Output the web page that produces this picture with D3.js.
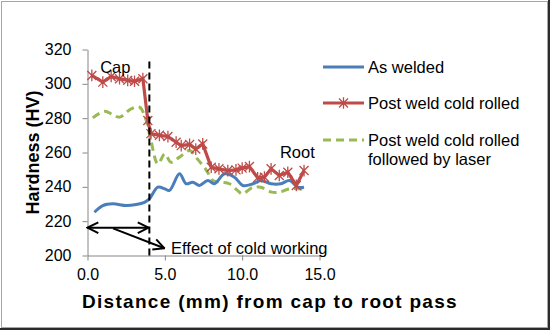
<!DOCTYPE html>
<html>
<head>
<meta charset="utf-8">
<script src="https://cdn.jsdelivr.net/npm/d3@7"></script>
<style>
  html, body { margin: 0; padding: 0; background: #fff; }
  svg { display: block; font-family: "Liberation Sans", Arial, sans-serif; }
</style>
</head>
<body>
<svg id="chart" width="550" height="330"></svg>
<script>
// Series: distance (mm) and hardness (HV)
const asWeldedX = [0.45, 0.99, 1.64, 2.5, 3.15, 3.68, 4.0, 4.55, 5.0, 5.3, 5.95, 6.38, 6.8, 7.24, 7.78, 8.2, 8.86, 9.5, 10.04, 10.7, 11.2, 11.87, 12.5, 13.06, 13.6, 14.0];
const asWeldedY = [225.2, 229.1, 230.1, 229.1, 229.7, 231, 233, 239.8, 238.8, 237.9, 247.6, 241.8, 242.7, 240.8, 243.7, 241.8, 247.6, 245.6, 240.8, 241.8, 243.7, 241.8, 241.8, 243.7, 239.8, 239.8];

const coldRolledX = [0.28, 0.99, 1.53, 2.07, 2.6, 3.04, 3.58, 3.9, 4.1, 4.65, 5.2, 5.73, 6.06, 6.6, 7.0, 7.45, 8.0, 8.5, 9.07, 9.6, 10.0, 10.47, 11.0, 11.44, 11.87, 12.4, 12.95, 13.5, 14.0];
const coldRolledY = [304.9, 301, 304.3, 303, 302, 301.5, 303, 278.6, 271, 270, 269.3, 266, 264, 264.7, 262, 265, 251.4, 250.5, 249.5, 249.9, 250.9, 251.8, 245.3, 245.6, 250.5, 246.6, 248.5, 240.8, 249.5];

const laserX = [0.34, 1.1, 1.64, 2.07, 2.82, 3.36, 3.8, 4.1, 4.55, 5.0, 5.4, 5.95, 6.6, 7.1, 7.7, 8.1, 8.64, 9.18, 9.7, 10.0, 10.7, 11.2, 11.9, 12.4, 13.06, 13.9];
const laserY = [280.2, 284, 282, 280.6, 285.4, 286.4, 278.6, 267, 253.4, 259.2, 254.3, 257.3, 261.2, 256.3, 249.5, 243.7, 242.7, 241.8, 237.9, 235.9, 239.8, 239.8, 236.9, 236.9, 238.8, 238.8];

const seriesNames = ["As welded", "Post weld cold rolled", "Post weld cold rolled followed by laser"];
const xTicks = [0, 5, 10, 15];
const yTicks = [200, 220, 240, 260, 280, 300, 320];

// Annotations in data units
const capLineX = 4.0, capLineTop = 313;
const arrowSpan = [0, 3.95], arrowLevel = 216.2;
const pointerFrom = [1.65, 215.8], pointerTo = [4.97, 204.2];

const svg = d3.select("#chart");
const W = 550, H = 330;
const m = { top: 49.5, left: 87.5 };
const iW = 232, iH = 206;

// Frame
svg.append("rect").attr("x", 1.5).attr("y", 1.5).attr("width", 546).attr("height", 326)
  .attr("fill", "#fff").attr("stroke", "#a6a6a6");
svg.append("rect").attr("x", 548).attr("y", 0).attr("width", 2).attr("height", H).attr("fill", "#2b2b2b");
svg.append("rect").attr("x", 0).attr("y", 328).attr("width", W).attr("height", 2).attr("fill", "#2b2b2b");

const g = svg.append("g").attr("transform", `translate(${m.left},${m.top})`);
const x = d3.scaleLinear().domain([0, 15]).range([0, iW]);
const y = d3.scaleLinear().domain([200, 320]).range([iH, 0]);

const axisColor = "#868686";

// Y axis
g.append("g")
  .call(d3.axisLeft(y).tickValues(yTicks).tickSizeInner(5).tickSizeOuter(0).tickPadding(11))
  .call(ax => {
    ax.select(".domain").attr("stroke", axisColor);
    ax.selectAll(".tick line").attr("stroke", axisColor);
    ax.selectAll(".tick text").style("fill", "#000").style("font-size", "16px");
  });

// X axis
g.append("g")
  .attr("transform", `translate(0,${iH})`)
  .call(d3.axisBottom(x).tickValues(xTicks).tickFormat(d3.format(".1f")).tickSizeInner(5).tickSizeOuter(0).tickPadding(8))
  .call(ax => {
    ax.select(".domain").attr("stroke", axisColor);
    ax.selectAll(".tick line").attr("stroke", axisColor);
    ax.selectAll(".tick text").style("fill", "#000").style("font-size", "16px");
  });

// Axis titles
svg.append("text")
  .attr("transform", "translate(39,152.5) rotate(-90)")
  .attr("text-anchor", "middle")
  .style("font-size", "18px").style("font-weight", "bold")
  .text("Hardness (HV)");
svg.append("text")
  .attr("x", 82).attr("y", 308)
  .style("font-size", "19px").style("font-weight", "bold").style("letter-spacing", "1.3px")
  .text("Distance (mm) from cap to root pass");

const zip = (xs, ys) => xs.map((d, i) => ({ x: d, y: ys[i] }));
const blue = "#4A7EBB", red = "#BE4B48", green = "#98B954";

// Post weld cold rolled followed by laser (dashed, smoothed)
const smooth = d3.line().x(d => x(d.x)).y(d => y(d.y)).curve(d3.curveCatmullRom.alpha(0.5));
g.append("path").datum(zip(laserX, laserY))
  .attr("fill", "none").attr("stroke", green).attr("stroke-width", 3)
  .attr("stroke-dasharray", "8,5").attr("d", smooth);

// As welded (smoothed)
g.append("path").datum(zip(asWeldedX, asWeldedY))
  .attr("fill", "none").attr("stroke", blue).attr("stroke-width", 3).attr("d", smooth);

// Post weld cold rolled (straight with star markers)
const straight = d3.line().x(d => x(d.x)).y(d => y(d.y));
const redData = zip(coldRolledX, coldRolledY);
g.append("path").datum(redData)
  .attr("fill", "none").attr("stroke", red).attr("stroke-width", 3.2).attr("d", straight);

const starPath = r => `M${-r},${-r}L${r},${r}M${-r},${r}L${r},${-r}M0,${-r * 1.3}L0,${r * 1.3}`;
g.selectAll(".star").data(redData).join("path")
  .attr("class", "star")
  .attr("transform", d => `translate(${x(d.x)},${y(d.y)})`)
  .attr("d", starPath(4.5))
  .attr("stroke", red).attr("stroke-width", 1.3).attr("fill", "none");

// Dashed vertical separator
g.append("line")
  .attr("x1", x(capLineX)).attr("x2", x(capLineX))
  .attr("y1", y(200)).attr("y2", y(capLineTop))
  .attr("stroke", "#000").attr("stroke-width", 2).attr("stroke-dasharray", "7,4");

// Arrows
const defs = svg.append("defs");
defs.append("marker").attr("id", "head").attr("viewBox", "0 0 12 12")
  .attr("refX", 11).attr("refY", 6).attr("markerWidth", 13).attr("markerHeight", 13)
  .attr("markerUnits", "userSpaceOnUse").attr("orient", "auto-start-reverse")
  .append("path").attr("d", "M1,1L11,6L1,11").attr("fill", "none").attr("stroke", "#000").attr("stroke-width", 1.8);

g.append("line")
  .attr("x1", x(arrowSpan[0])).attr("x2", x(arrowSpan[1]))
  .attr("y1", y(arrowLevel)).attr("y2", y(arrowLevel))
  .attr("stroke", "#000").attr("stroke-width", 2)
  .attr("marker-start", "url(#head)").attr("marker-end", "url(#head)");
g.append("line")
  .attr("x1", x(pointerFrom[0])).attr("y1", y(pointerFrom[1]))
  .attr("x2", x(pointerTo[0])).attr("y2", y(pointerTo[1]))
  .attr("stroke", "#000").attr("stroke-width", 2)
  .attr("marker-end", "url(#head)");

// Labels
const label = (t, dx, dy, anchor) => g.append("text")
  .attr("x", x(dx)).attr("y", y(dy)).attr("dy", "0.35em")
  .attr("text-anchor", anchor).style("font-size", "16.5px").text(t);
label("Cap", 1.8, 309.6, "middle");
label("Root", 13.57, 259.9, "middle");
label("Effect of cold working", 5.4, 204.4, "start");

// Legend
const legend = svg.append("g").attr("transform", "translate(323,67)");
const legendRows = [
  { name: seriesNames[0], color: blue, dash: null, star: false, y: 0 },
  { name: seriesNames[1], color: red, dash: null, star: true, y: 36 },
  { name: seriesNames[2], color: green, dash: "8,5", star: false, y: 73 }
];
legendRows.forEach(r => {
  const row = legend.append("g").attr("transform", `translate(0,${r.y})`);
  row.append("line").attr("x1", 0).attr("x2", 41)
    .attr("stroke", r.color).attr("stroke-width", 3).attr("stroke-dasharray", r.dash);
  if (r.star) {
    row.append("path").attr("transform", "translate(20.5,0)").attr("d", starPath(4.5))
      .attr("stroke", r.color).attr("stroke-width", 1.3).attr("fill", "none");
  }
});
const legendText = legend.append("g").style("font-size", "16.5px");
legendText.append("text").attr("x", 45).attr("y", 0).attr("dy", "0.35em").text(seriesNames[0]);
legendText.append("text").attr("x", 45).attr("y", 36).attr("dy", "0.35em").text(seriesNames[1]);
legendText.append("text").attr("x", 45).attr("y", 73).attr("dy", "0.35em").text("Post weld cold rolled");
legendText.append("text").attr("x", 45).attr("y", 92.5).attr("dy", "0.35em").text("followed by laser");
</script>
</body>
</html>
